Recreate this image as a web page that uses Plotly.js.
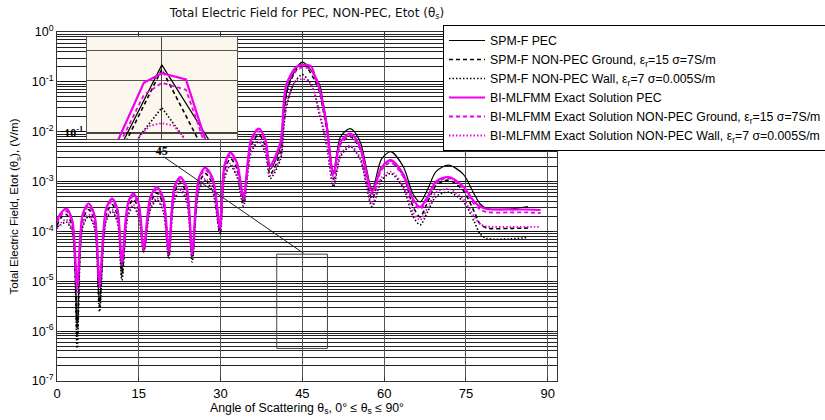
<!DOCTYPE html>
<html>
<head>
<meta charset="utf-8">
<script src="https://cdn.plot.ly/plotly-3.0.1.min.js"></script>
<style>html,body{margin:0;padding:0;background:#fff;}#chart{width:825px;height:420px;}</style>
</head>
<body>
<div id="chart"></div>
<script>
// Scattering angle (degrees)
const theta = [0, 0.8, 1.7, 2.8, 3.7, 4.7, 5.8, 6.9, 7.8, 9.0,
  10.1, 11.1, 11.9, 13.0, 14.0, 15.0, 15.9, 17.1, 18.3, 19.5,
  20.5, 21.5, 22.6, 23.8, 24.8, 26.0, 27.2, 28.6, 29.9, 30.7,
  31.8, 33.0, 34.2, 35.6, 37.0, 38.2, 39.1, 41.0, 41.6, 42.1,
  42.5, 43.5, 43.8, 44.2, 45, 45.8, 46.4, 46.6, 47.3, 47.9,
  48.1, 48.7, 49.5, 50.7, 52.0, 53.8, 55.6, 57.8, 59.5, 61.2,
  63.5, 65.3, 66.6, 68.0, 69.5, 71.8, 74.5, 76.5, 77.6, 78.8,
  83.0, 86.4, 88.7];

// SPM-F PEC
const spmPEC = [1.70e-4, 2.40e-4, 2.88e-4, 1.66e-4, 1.26e-6, 2.19e-4, 3.63e-4, 2.09e-4, 3.98e-6, 2.82e-4,
  4.57e-4, 2.75e-4, 1.58e-5, 3.63e-4, 5.75e-4, 3.55e-4, 4.17e-5, 4.79e-4, 7.76e-4, 4.68e-4,
  3.55e-5, 7.59e-4, 1.23e-3, 7.41e-4, 3.16e-5, 1.17e-3, 1.91e-3, 1.12e-3, 1.0e-4, 2.09e-3,
  3.80e-3, 2.40e-3, 4.17e-4, 6.92e-3, 1.15e-2, 6.92e-3, 1.78e-3, 5.01e-3, 2.82e-2, null,
  9.2e-2, null, null, null, 0.248, null, null, null, null, null,
  9.2e-2, 4.47e-2, 1.41e-2, 1.58e-3, 7.94e-3, 1.15e-2, 6.31e-3, 7.08e-4, 2.82e-3, 3.98e-3,
  2.0e-3, 5.62e-4, 3.89e-4, 7.08e-4, 1.58e-3, 2.14e-3, 1.41e-3, 5.62e-4, 3.55e-4, 2.88e-4,
  2.82e-4, 3.16e-4, null];

// SPM-F NON-PEC Ground
const spmGround = [1.32e-4, 1.91e-4, 2.19e-4, 1.26e-4, 7.94e-7, 1.66e-4, 2.75e-4, 1.58e-4, 3.16e-6, 2.14e-4,
  3.47e-4, 2.09e-4, 1.26e-5, 2.75e-4, 4.37e-4, 2.69e-4, 3.98e-5, 3.63e-4, 5.89e-4, 3.55e-4,
  3.16e-5, 5.75e-4, 9.33e-4, 5.62e-4, 2.82e-5, 8.91e-4, 1.45e-3, 8.51e-4, 9.33e-5, 1.58e-3,
  2.88e-3, 1.82e-3, 3.72e-4, 5.25e-3, 8.71e-3, 5.25e-3, 1.41e-3, 3.98e-3, 2.24e-2, null,
  8.51e-2, null, null, null, 0.234, null, null, null, null, 7.59e-2,
  null, 3.16e-2, 1.0e-2, 1.12e-3, 5.62e-3, 7.94e-3, 4.47e-3, 4.47e-4, 1.91e-3, 2.63e-3,
  1.32e-3, 3.16e-4, 1.95e-4, 3.98e-4, 8.32e-4, 1.07e-3, 6.61e-4, 2.51e-4, 1.41e-4, 1.17e-4,
  1.15e-4, 1.17e-4, null];

// SPM-F NON-PEC Wall
const spmWall = [1.23e-4, 1.38e-4, 1.55e-4, 9.55e-5, 4.57e-7, 1.20e-4, 2.0e-4, 1.17e-4, 2.45e-6, 1.58e-4,
  2.51e-4, 1.51e-4, 1.05e-5, 2.0e-4, 3.16e-4, 1.91e-4, 3.89e-5, 2.63e-4, 4.27e-4, 2.51e-4,
  2.88e-5, 4.17e-4, 6.76e-4, 3.98e-4, 2.45e-5, 6.31e-4, 1.05e-3, 6.03e-4, 8.51e-5, 1.12e-3,
  2.09e-3, 1.26e-3, 3.24e-4, 3.80e-3, 6.31e-3, 3.80e-3, 1.15e-3, 2.82e-3, 1.26e-2, 3.16e-2,
  null, 9.55e-2, null, null, 0.140, null, 9.55e-2, null, 5.62e-2, 2.82e-2,
  null, 1.26e-2, 5.01e-3, 7.94e-4, 3.16e-3, 5.01e-3, 2.82e-3, 3.16e-4, 1.05e-3, 1.45e-3,
  7.59e-4, 2.0e-4, 1.35e-4, 2.51e-4, 5.01e-4, 6.17e-4, 3.98e-4, 1.58e-4, 8.91e-5, 7.24e-5,
  7.08e-5, 7.59e-5, null];

// BI-MLFMM Exact Solution PEC
const biPEC = [1.70e-4, 2.40e-4, 2.88e-4, 1.66e-4, 8.3e-6, 2.19e-4, 3.63e-4, 2.09e-4, 9.5e-6, 2.82e-4,
  4.57e-4, 2.75e-4, 2.63e-5, 3.63e-4, 5.75e-4, 3.55e-4, 4.68e-5, 4.79e-4, 7.76e-4, 4.68e-4,
  4.27e-5, 7.59e-4, 1.23e-3, 7.41e-4, 3.89e-5, 1.17e-3, 1.91e-3, 1.12e-3, 1.26e-4, 2.09e-3,
  3.80e-3, 2.40e-3, 5.13e-4, 6.92e-3, 1.15e-2, 6.92e-3, 2.14e-3, 6.31e-3, 3.98e-2, 9.12e-2,
  null, null, 0.195, null, 0.222, null, null, 0.204, 0.132, 9.12e-2,
  null, 3.98e-2, 1.26e-2, 1.41e-3, 6.31e-3, 9.12e-3, 5.01e-3, 6.31e-4, 1.91e-3, 2.69e-3,
  1.41e-3, 4.47e-4, 3.09e-4, 5.01e-4, 1.0e-3, 1.23e-3, 7.94e-4, 3.98e-4, 3.16e-4, 2.82e-4,
  2.75e-4, 2.75e-4, 2.69e-4];

// BI-MLFMM Exact Solution NON-PEC Ground
const biGround = [1.51e-4, 2.14e-4, 2.57e-4, 1.48e-4, 7.08e-6, 1.95e-4, 3.24e-4, 1.86e-4, 8.32e-6, 2.51e-4,
  4.07e-4, 2.45e-4, 2.34e-5, 3.24e-4, 5.13e-4, 3.16e-4, 4.27e-5, 4.27e-4, 6.92e-4, 4.17e-4,
  3.80e-5, 6.76e-4, 1.10e-3, 6.61e-4, 3.47e-5, 1.05e-3, 1.70e-3, 1.0e-3, 1.12e-4, 1.86e-3,
  3.39e-3, 2.14e-3, 4.57e-4, 6.17e-3, 1.02e-2, 6.17e-3, 1.91e-3, 5.62e-3, 3.55e-2, 8.32e-2,
  null, null, 0.166, null, 0.195, null, null, 0.178, 0.120, 8.32e-2,
  null, 3.55e-2, 1.12e-2, 1.26e-3, 5.75e-3, 8.32e-3, 4.57e-3, 5.62e-4, 1.70e-3, 2.40e-3,
  1.26e-3, 3.98e-4, 2.82e-4, 4.57e-4, 9.33e-4, 1.17e-3, 7.41e-4, 3.55e-4, 2.75e-4, 2.45e-4,
  2.40e-4, 2.40e-4, 2.34e-4];

// BI-MLFMM Exact Solution NON-PEC Wall
const biWall = [1.12e-4, 1.51e-4, 1.74e-4, 1.05e-4, 5.62e-6, 1.32e-4, 2.19e-4, 1.26e-4, 7.08e-6, 1.74e-4,
  2.75e-4, 1.66e-4, 2.0e-5, 2.19e-4, 3.47e-4, 2.09e-4, 3.98e-5, 2.88e-4, 4.68e-4, 2.75e-4,
  3.31e-5, 4.57e-4, 7.41e-4, 4.37e-4, 3.02e-5, 6.92e-4, 1.15e-3, 6.61e-4, 1.0e-4, 1.23e-3,
  2.29e-3, 1.38e-3, 3.80e-4, 4.17e-3, 6.92e-3, 4.17e-3, 1.32e-3, 3.16e-3, 1.41e-2, 3.55e-2,
  null, 9.55e-2, null, 0.110, 0.114, 0.110, 9.55e-2, null, 5.62e-2, 3.16e-2,
  null, 1.41e-2, 5.62e-3, 8.91e-4, 3.55e-3, 5.25e-3, 3.02e-3, 3.55e-4, 1.20e-3, 1.58e-3,
  8.32e-4, 2.40e-4, 1.70e-4, 3.02e-4, 6.03e-4, 7.08e-4, 4.47e-4, 2.0e-4, 1.41e-4, 1.26e-4,
  1.23e-4, 1.23e-4, 1.23e-4];

const seriesNames = [
  'SPM-F PEC',
  'SPM-F NON-PEC Ground, ε<sub>r</sub>=15 σ=7S/m',
  'SPM-F NON-PEC Wall, ε<sub>r</sub>=7 σ=0.005S/m',
  'BI-MLFMM Exact Solution PEC',
  'BI-MLFMM Exact Solution NON-PEC Ground, ε<sub>r</sub>=15 σ=7S/m',
  'BI-MLFMM Exact Solution NON-PEC Wall, ε<sub>r</sub>=7 σ=0.005S/m'
];
const seriesValues = [spmPEC, spmGround, spmWall, biPEC, biGround, biWall];

const xTicks = [0, 15, 30, 45, 60, 75, 90];
const yTicks = [1e-7, 1e-6, 1e-5, 1e-4, 1e-3, 1e-2, 1e-1, 1];
const yTickText = ['10<sup>-7</sup>', '10<sup>-6</sup>', '10<sup>-5</sup>', '10<sup>-4</sup>', '10<sup>-3</sup>', '10<sup>-2</sup>', '10<sup>-1</sup>', '10<sup>0</sup>'];

const MAG = '#f000f0';
const styles = [
  {color: '#000000', width: 1.2, dash: 'solid'},
  {color: '#000000', width: 1.6, dash: '4px,3px'},
  {color: '#000000', width: 1.6, dash: '1.5px,2px'},
  {color: MAG, width: 2.2, dash: 'solid'},
  {color: MAG, width: 1.8, dash: '4px,3px'},
  {color: MAG, width: 1.8, dash: '1.5px,2px'}
];

const traces = [];
seriesValues.forEach((vals, i) => {
  traces.push({
    type: 'scatter', mode: 'lines', x: theta, y: vals, name: seriesNames[i],
    connectgaps: true, line: Object.assign({shape: 'spline', smoothing: 0.8}, styles[i]),
    xaxis: 'x', yaxis: 'y'
  });
});
seriesValues.forEach((vals, i) => {
  traces.push({
    type: 'scatter', mode: 'lines', x: theta, y: vals, name: seriesNames[i],
    connectgaps: true, line: styles[i], xaxis: 'x2', yaxis: 'y2',
    showlegend: false, hoverinfo: 'skip'
  });
});

const SANS = 'Liberation Sans, Arial, sans-serif';
const SERIF = 'Liberation Serif, Times New Roman, serif';

const layout = {
  width: 825, height: 420,
  margin: {l: 57, r: 268, t: 32, b: 39, autoexpand: false},
  paper_bgcolor: '#ffffff', plot_bgcolor: 'rgba(0,0,0,0)',
  font: {family: SANS, size: 11, color: '#000'},
  showlegend: true,
  title: {text: 'Total Electric Field for PEC, NON-PEC, Etot (θ<sub>s</sub>)',
          font: {size: 12, family: 'DejaVu Sans, sans-serif', color: '#111'},
          x: 0.5, xref: 'paper', xanchor: 'center', y: 0.97, yref: 'container', yanchor: 'middle'},
  xaxis: {
    domain: [0, 1], range: [0, 91.7], tickvals: xTicks, ticktext: xTicks.map(String),
    showgrid: true, gridcolor: '#555', gridwidth: 1,
    showline: true, linecolor: '#333', linewidth: 1, mirror: 'ticks',
    ticks: 'inside', ticklen: 4, tickcolor: '#333', zeroline: false,
    tickfont: {size: 13},
    title: {text: 'Angle of Scattering θ<sub>s</sub>, 0° ≤ θ<sub>s</sub> ≤ 90°', font: {size: 12.3}, standoff: 3}
  },
  yaxis: {
    domain: [0, 1], type: 'log', range: [-7, 0], tickvals: yTicks, ticktext: yTickText,
    showgrid: true, gridcolor: '#111', gridwidth: 1,
    minor: {dtick: 'D1', showgrid: true, gridcolor: '#222', gridwidth: 1, ticks: ''},
    showline: true, linecolor: '#333', linewidth: 1, mirror: 'ticks',
    ticks: 'inside', ticklen: 4, tickcolor: '#333', zeroline: false,
    tickfont: {size: 12.5},
    title: {text: 'Total Electric Field, Etot (θ<sub>s</sub>), (V/m)', font: {size: 11.5}, standoff: 10}
  },
  xaxis2: {
    anchor: 'y2', domain: [0.0594, 0.36], range: [40, 50], tickvals: [45], ticktext: ['45'],
    showgrid: true, gridcolor: '#444', gridwidth: 1.2,
    showline: true, linecolor: '#555', linewidth: 1, mirror: true, ticks: '', zeroline: false,
    tickfont: {family: SERIF, size: 12, weight: 'bold'}
  },
  yaxis2: {
    anchor: 'x2', domain: [0.693, 0.9857], type: 'log', range: [-1.036, -0.444],
    tickvals: [0.1], ticktext: ['10<sup>-1</sup>'],
    showgrid: true, gridcolor: '#444', gridwidth: 1.5,
    minor: {tickvals: [0.2, 0.3], showgrid: true, gridcolor: '#555', gridwidth: 1, ticks: ''},
    showline: true, linecolor: '#555', linewidth: 1, mirror: true, ticks: '', zeroline: false,
    tickfont: {family: SERIF, size: 12, weight: 'bold'}
  },
  legend: {
    x: 0.772, y: 1.02, xref: 'paper', yref: 'paper', xanchor: 'left', yanchor: 'top',
    bgcolor: '#ffffff', bordercolor: '#000', borderwidth: 1,
    font: {size: 12.3}, itemwidth: 36
  },
  shapes: [
    {type: 'rect', xref: 'x2', yref: 'y2', x0: 40, x1: 50, y0: 0.092, y1: 0.36,
     fillcolor: '#fbf7ec', line: {width: 0}, layer: 'below'},
    {type: 'rect', xref: 'x', yref: 'y', x0: 40.3, x1: 49.6, y0: 4.5e-7, y1: 3.5e-5,
     line: {color: '#444', width: 1}, fillcolor: 'rgba(0,0,0,0)', layer: 'above'},
    {type: 'line', xref: 'paper', yref: 'paper', x0: 0.2132, y0: 0.6427, x1: 0.4932, y1: 0.3659,
     line: {color: '#222', width: 1}, layer: 'above'}
  ]
};

Plotly.newPlot('chart', traces, layout, {displayModeBar: false, staticPlot: true});
</script>
</body>
</html>
